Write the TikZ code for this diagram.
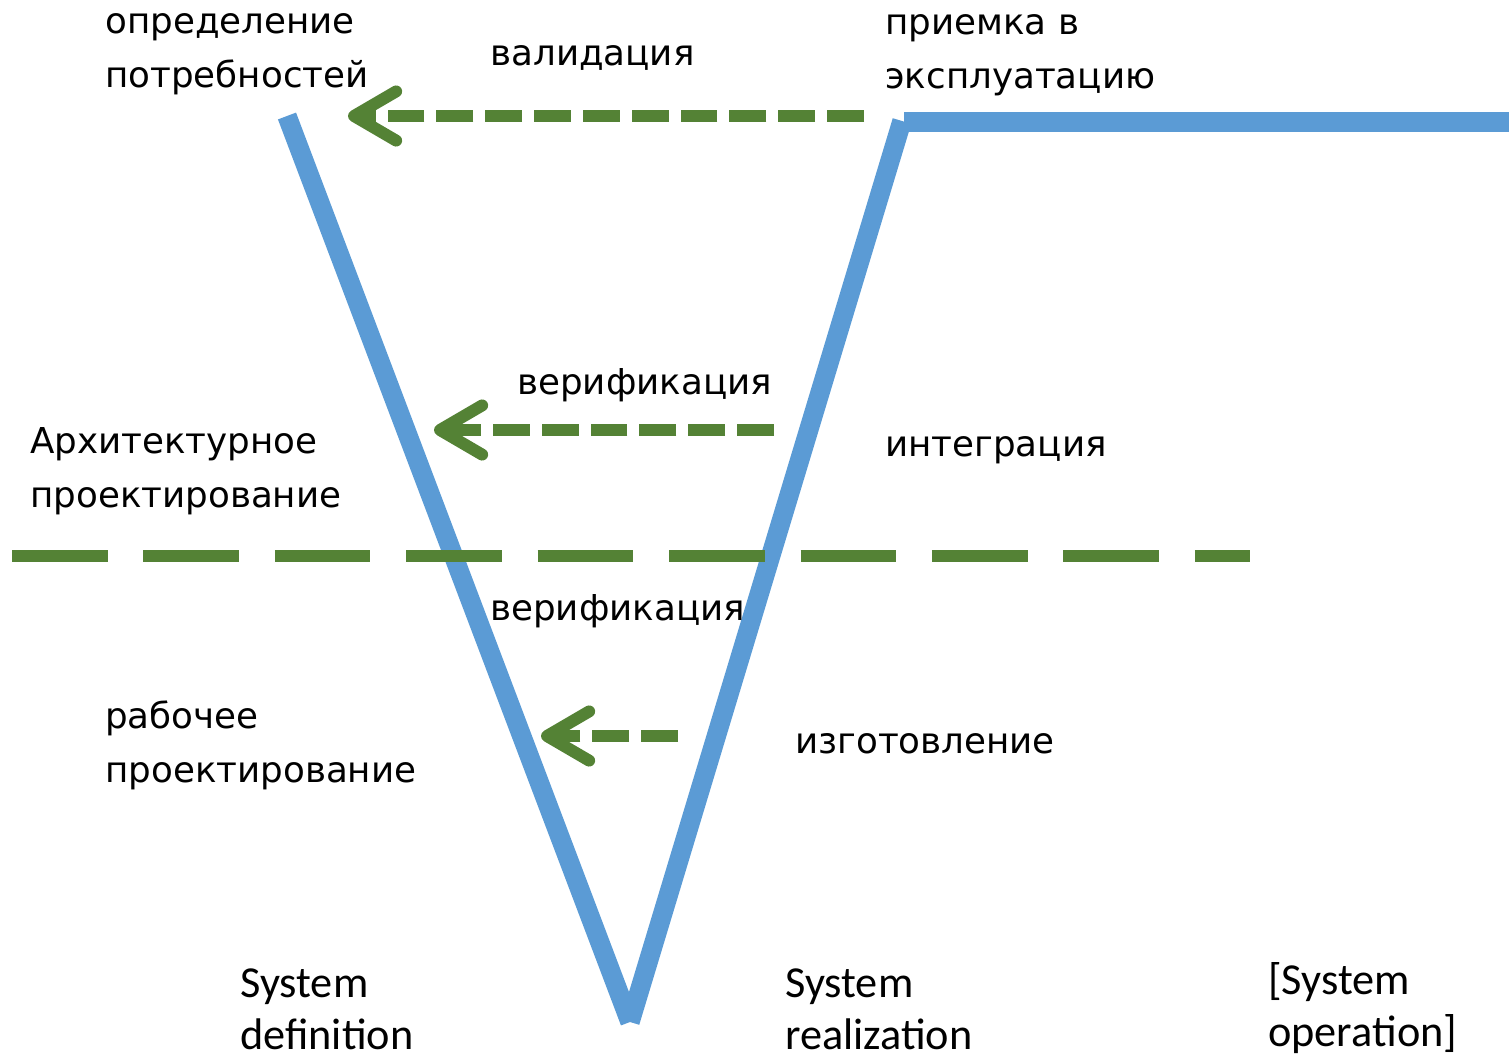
\documentclass[tikz,border=0pt]{standalone}
\usepackage{fontspec}
\usetikzlibrary{arrows.meta}
\newfontfamily\rufont{DejaVu Sans}
\newfontfamily\enfont{Carlito}
\definecolor{vblue}{HTML}{5B9BD5}
\definecolor{vgreen}{HTML}{548235}
\tikzset{
  ru/.style={anchor=west,inner sep=0pt,align=left,font=\rufont\fontsize{20.3}{30.6}\selectfont},
  en/.style={anchor=west,inner sep=0pt,align=left,font=\enfont\fontsize{25.2}{29.5}\selectfont},
  vline/.style={vblue,line width=11pt,line cap=butt},
  check/.style={vgreen,line width=6.8pt,dash pattern=on 21pt off 6.8pt,
    -{Straight Barb[length=24pt,width=28pt,round]}},
  border/.style={vgreen,line width=6.8pt,dash pattern=on 54.4pt off 20.4pt}
}
\begin{document}
\begin{tikzpicture}[x=0.02cm,y=-0.02cm]
  \useasboundingbox (0,0) rectangle (1509,1059);
  % the V
  \coordinate (needs) at (287,116);
  \coordinate (bottom) at (630,1022);
  \coordinate (accept) at (902,121);
  \draw[vline] (needs) -- (bottom);
  \draw[vline] (bottom) -- (accept);
  \draw[vline] (904,122) coordinate (run) -- (1509,122) coordinate (runend);
  % border between architecture and detail design
  \draw[border] (12,556) coordinate (bl) -- (1250,556) coordinate (br);
  % checks, right to left
  \coordinate (v1a) at (864,116); \coordinate (v1b) at (348,116);
  \coordinate (v2a) at (774,430); \coordinate (v2b) at (434,430);
  \coordinate (v3a) at (678,736); \coordinate (v3b) at (541,736);
  \draw[check] (v1a) -- (v1b);
  \draw[check] (v2a) -- (v2b);
  \draw[check] (v3a) -- (v3b);
  % texts
  \node[ru] (def) at (105,54) {определение\\потребностей};
  \node[ru] (val) at (490,58) {валидация};
  \node[ru] (acc) at (885,55) {приемка в\\эксплуатацию};
  \node[ru] (ver1) at (517,385) {верификация};
  \node[ru] (arch) at (30,471) {Архитектурное\\проектирование};
  \node[ru] (int) at (885,450) {интеграция};
  \node[ru] (ver2) at (490,611) {верификация};
  \node[ru] (work) at (105,745) {рабочее\\проектирование};
  \node[ru] (make) at (795,744) {изготовление};
  \node[en] (sdef) at (240,1009) {System\\definition};
  \node[en] (sreal) at (785,1009) {System\\realization};
  \node[en] (sop) at (1268,1008) {[System\\operation]};
\end{tikzpicture}
\end{document}
